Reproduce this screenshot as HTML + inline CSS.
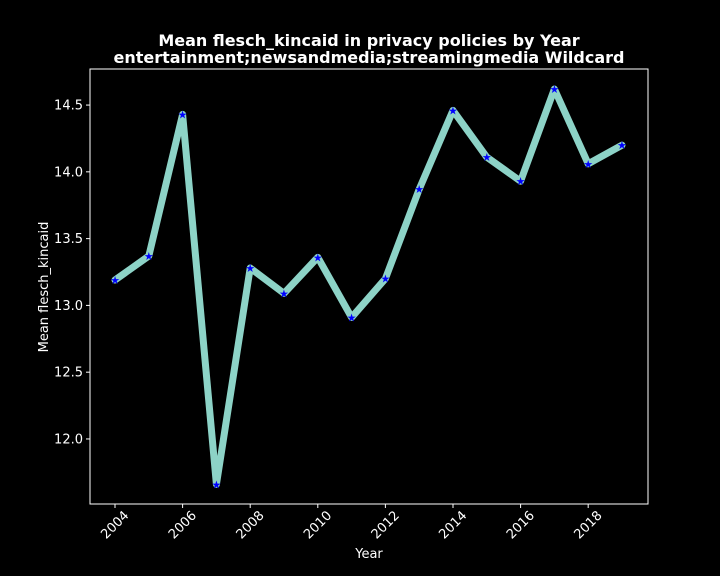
<!DOCTYPE html>
<html><head><meta charset="utf-8"><style>
body{margin:0;background:#000;}
svg{display:block;font-family:"DejaVu Sans","Liberation Sans",sans-serif;}
</style></head><body>
<svg id="chart" width="720" height="576">
<rect width="720" height="576" fill="#000"/>
<text x="369" y="46" fill="#fff" font-size="16" font-weight="bold" text-anchor="middle">Mean flesch_kincaid in privacy policies by Year</text>
<text x="369" y="63" fill="#fff" font-size="16" font-weight="bold" text-anchor="middle">entertainment;newsandmedia;streamingmedia Wildcard</text>
<g id="axes"></g>
<g id="plot"></g>
<text x="369" y="558" fill="#fff" font-size="13" text-anchor="middle">Year</text>
<text transform="translate(48,287) rotate(-90)" fill="#fff" font-size="13" text-anchor="middle">Mean flesch_kincaid</text>
</svg>
<script>
const years=[2004,2005,2006,2007,2008,2009,2010,2011,2012,2013,2014,2015,2016,2017,2018,2019];
const values=[13.19,13.37,14.43,11.66,13.28,13.09,13.36,12.91,13.20,13.87,14.46,14.11,13.93,14.62,14.06,14.20];
const xTicks=[2004,2006,2008,2010,2012,2014,2016,2018];
const yTicks=[12.0,12.5,13.0,13.5,14.0,14.5];
const L=90,R=648,T=69,B=504;
const xMin=2003.26,xMax=2019.77,yMin=11.513,yMax=14.77;
const sx=v=>L+(v-xMin)/(xMax-xMin)*(R-L);
const sy=v=>B-(v-yMin)/(yMax-yMin)*(B-T);
const NS="http://www.w3.org/2000/svg";
const axes=document.getElementById('axes'),plot=document.getElementById('plot');
function mk(tag,attrs,parent){const e=document.createElementNS(NS,tag);for(const k in attrs)e.setAttribute(k,attrs[k]);parent.appendChild(e);return e;}
const frame=mk('rect',{x:L,y:T,width:R-L,height:B-T,fill:'none',stroke:'#fff','stroke-width':1},axes);


xTicks.forEach(t=>{
  const x=sx(t);
  const tk=mk('line',{x1:x,x2:x,y1:B,y2:B+4,stroke:'#fff'},axes);
  
  
  const tx=mk('text',{x:0,y:4,fill:'#fff','font-size':13,'text-anchor':'middle',transform:`translate(${x},${B+21}) rotate(-45)`},axes);
  tx.textContent=t;
  
  
});
yTicks.forEach(t=>{
  const y=sy(t);
  const tk=mk('line',{x1:L-4,x2:L,y1:y,y2:y,stroke:'#fff'},axes);
  
  
  const tx=mk('text',{x:L-7,y:y+4.5,fill:'#fff','font-size':13,'text-anchor':'end'},axes);
  tx.textContent=t.toFixed(1);
  
  
});
const pts=years.map((yr,i)=>[sx(yr),sy(values[i])]);
const line=mk('polyline',{points:pts.map(p=>p.join(',')).join(' '),fill:'none',stroke:'#8dd3c7','stroke-width':7,'stroke-linejoin':'round','stroke-linecap':'round'},plot);


pts.forEach(p=>{
  const s=mk('text',{x:p[0],y:p[1]+4,fill:'#0000ff','font-size':11,'text-anchor':'middle'},plot);
  s.textContent='★';
  
  
});
</script>
</body></html>
